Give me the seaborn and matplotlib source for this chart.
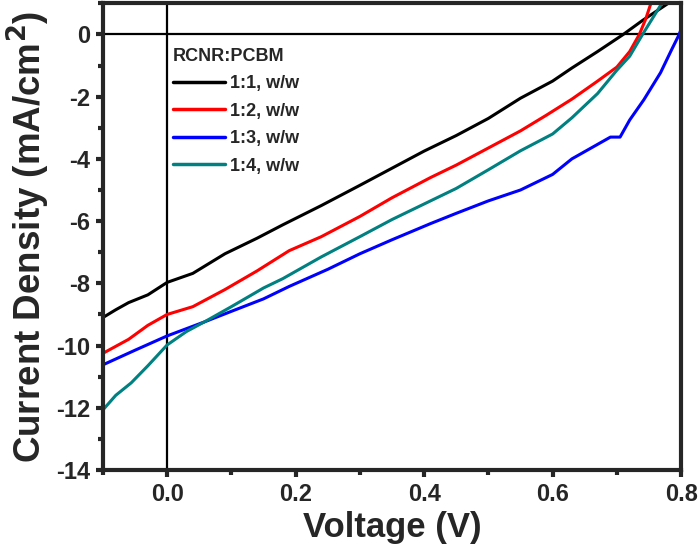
import pandas as pd
import numpy as np
import seaborn as sns
import matplotlib.pyplot as plt
from matplotlib.ticker import MultipleLocator

# J-V curves (voltage in V, current density in mA/cm2)
v_11 = [-0.10, -0.08, -0.06, -0.03, 0.00, 0.04, 0.09, 0.14, 0.18, 0.24, 0.30, 0.35,
        0.40, 0.45, 0.50, 0.55, 0.60, 0.63, 0.67, 0.71, 0.74, 0.78]
j_11 = [-9.10, -8.85, -8.62, -8.37, -7.97, -7.68, -7.05, -6.55, -6.12, -5.50, -4.85, -4.30,
        -3.75, -3.25, -2.70, -2.05, -1.50, -1.08, -0.55, 0.00, 0.45, 1.00]

v_12 = [-0.10, -0.06, -0.03, 0.00, 0.04, 0.09, 0.14, 0.19, 0.24, 0.30, 0.35, 0.41,
        0.45, 0.50, 0.55, 0.59, 0.63, 0.67, 0.70, 0.72, 0.735, 0.745, 0.753]
j_12 = [-10.25, -9.80, -9.35, -9.00, -8.75, -8.20, -7.60, -6.95, -6.50, -5.85, -5.25, -4.60,
        -4.20, -3.65, -3.10, -2.60, -2.08, -1.50, -1.05, -0.55, 0.00, 0.50, 1.00]

v_13 = [-0.10, -0.05, 0.00, 0.058, 0.10, 0.15, 0.19, 0.25, 0.30, 0.35, 0.41, 0.45,
        0.50, 0.55, 0.60, 0.63, 0.66, 0.69, 0.705, 0.72, 0.742, 0.768, 0.785, 0.797, 0.804]
j_13 = [-10.62, -10.15, -9.69, -9.24, -8.90, -8.50, -8.10, -7.55, -7.05, -6.60, -6.08, -5.75,
        -5.35, -5.00, -4.50, -4.00, -3.65, -3.30, -3.30, -2.75, -2.10, -1.23, -0.50, 0.00, 0.40]

v_14 = [-0.10, -0.08, -0.056, -0.03, 0.00, 0.03, 0.058, 0.10, 0.15, 0.18, 0.24, 0.30,
        0.35, 0.41, 0.45, 0.50, 0.55, 0.60, 0.63, 0.67, 0.70, 0.72, 0.74, 0.755, 0.77]
j_14 = [-12.07, -11.60, -11.20, -10.65, -9.98, -9.55, -9.24, -8.75, -8.15, -7.85, -7.15, -6.50,
        -5.95, -5.35, -4.95, -4.35, -3.74, -3.20, -2.68, -1.90, -1.15, -0.70, 0.00, 0.50, 1.00]

labels = ['1:1, w/w', '1:2, w/w', '1:3, w/w', '1:4, w/w']
colors = ['black', '#ff0000', '#0000ff', '#008080']

frames = []
for lab, v, j in zip(labels, [v_11, v_12, v_13, v_14], [j_11, j_12, j_13, j_14]):
    frames.append(pd.DataFrame({'Voltage': v, 'J': j, 'ratio': lab}))
df = pd.concat(frames, ignore_index=True)

sns.set_style('ticks')
plt.rcParams['font.family'] = ['Liberation Sans', 'DejaVu Sans']
plt.rcParams['font.weight'] = 'bold'
plt.rcParams['axes.unicode_minus'] = False

fig, ax = plt.subplots(figsize=(7, 5.51), dpi=100)
fig.subplots_adjust(left=0.147, right=0.973, top=0.994, bottom=0.147)

ax.axhline(0, color='black', lw=1.6, zorder=1)
ax.axvline(0, color='black', lw=1.6, zorder=1)

sns.lineplot(data=df, x='Voltage', y='J', hue='ratio', hue_order=labels,
             palette=dict(zip(labels, colors)), sort=False, estimator=None,
             lw=2.2, ax=ax)

ax.set_xlim(-0.1, 0.8)
ax.set_ylim(-14, 1)
ax.xaxis.set_major_locator(MultipleLocator(0.2))
ax.xaxis.set_minor_locator(MultipleLocator(0.1))
ax.yaxis.set_major_locator(MultipleLocator(2))
ax.yaxis.set_minor_locator(MultipleLocator(1))
ax.xaxis.set_major_formatter(plt.FuncFormatter(lambda x, p: f'{x:.1f}'))

for s in ax.spines.values():
    s.set_linewidth(3)
    s.set_visible(True)
ax.tick_params(which='major', direction='out', length=5, width=3, labelsize=17, pad=4)
ax.tick_params(which='minor', direction='out', length=3.5, width=3)
for t in ax.get_xticklabels() + ax.get_yticklabels():
    t.set_fontweight('bold')

ax.set_xlabel('Voltage (V)', fontsize=25, fontweight='bold', labelpad=4)
ax.set_ylabel('Current Density (mA/cm$^\\mathbf{2}$)', fontsize=26.5, fontweight='bold', labelpad=3)

leg = ax.legend(title='RCNR:PCBM', loc='upper left', bbox_to_anchor=(0.108, 0.92),
                frameon=False, fontsize=13, title_fontsize=13, handlelength=2.9,
                handletextpad=0.3, labelspacing=0.58, borderaxespad=0, alignment='left')
plt.setp(leg.get_title(), fontweight='bold')
for t in leg.get_texts():
    t.set_fontweight('bold')
for h in leg.get_lines():
    h.set_linewidth(2.5)

plt.savefig('out.png', dpi=100)
